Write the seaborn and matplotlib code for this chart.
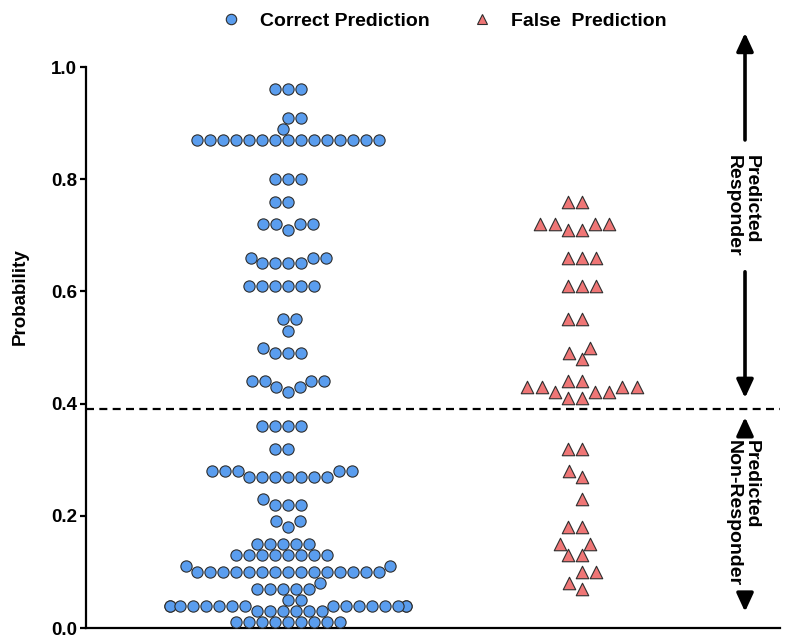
import matplotlib
matplotlib.use("Agg")
import matplotlib.pyplot as plt
from matplotlib.lines import Line2D
import seaborn as sns
import pandas as pd

# ---- data ----
categories = ["Correct Prediction", "False  Prediction"]

correct_values = [
    0.96, 0.96, 0.96,
    0.91, 0.91,
    0.89,
    0.87, 0.87, 0.87, 0.87, 0.87, 0.87, 0.87, 0.87, 0.87, 0.87, 0.87, 0.87, 0.87, 0.87, 0.87,
    0.80, 0.80, 0.80,
    0.76, 0.76,
    0.72, 0.72, 0.72, 0.72, 0.71,
    0.66, 0.66, 0.66, 0.65, 0.65, 0.65, 0.65,
    0.61, 0.61, 0.61, 0.61, 0.61, 0.61,
    0.55, 0.55, 0.53,
    0.50, 0.49, 0.49, 0.49,
    0.44, 0.44, 0.44, 0.44, 0.43, 0.43, 0.42,
    0.36, 0.36, 0.36, 0.36,
    0.32, 0.32,
    0.28, 0.28, 0.28, 0.28, 0.28, 0.27, 0.27, 0.27, 0.27, 0.27, 0.27, 0.27,
    0.23, 0.22, 0.22, 0.22,
    0.19, 0.19, 0.18,
    0.15, 0.15, 0.15, 0.15, 0.15,
    0.13, 0.13, 0.13, 0.13, 0.13, 0.13, 0.13, 0.13,
    0.11, 0.11,
    0.10, 0.10, 0.10, 0.10, 0.10, 0.10, 0.10, 0.10, 0.10, 0.10, 0.10, 0.10, 0.10, 0.10, 0.10,
    0.08, 0.07, 0.07, 0.07, 0.07, 0.07,
    0.05, 0.05,
    0.04, 0.04, 0.04, 0.04, 0.04, 0.04, 0.04, 0.04, 0.04, 0.04, 0.04, 0.04, 0.04, 0.04, 0.04, 0.04,
    0.03, 0.03, 0.03, 0.03, 0.03, 0.03,
    0.01, 0.01, 0.01, 0.01, 0.01, 0.01, 0.01, 0.01, 0.01,
]

false_values = [
    0.76, 0.76,
    0.72, 0.72, 0.72, 0.72, 0.71, 0.71,
    0.66, 0.66, 0.66,
    0.61, 0.61, 0.61,
    0.55, 0.55,
    0.50, 0.49, 0.48,
    0.44, 0.44, 0.43, 0.43, 0.43, 0.43, 0.42, 0.42, 0.42, 0.41, 0.41,
    0.32, 0.32,
    0.28, 0.27,
    0.23,
    0.18, 0.18,
    0.15, 0.15, 0.13, 0.13,
    0.10, 0.10, 0.08, 0.07,
]

threshold = 0.39
yticks = [0.0, 0.2, 0.4, 0.6, 0.8, 1.0]
ytick_labels = ["0.0", "0.2", "0.4", "0.6", "0.8", "1.0"]

blue = "#5A9DEE"
red = "#EF7676"
edge = "#2E2E2E"

df = pd.DataFrame({
    "group": [categories[0]] * len(correct_values) + [categories[1]] * len(false_values),
    "prob": correct_values + false_values,
})

sns.set_style("ticks")
plt.rcParams["font.family"] = ["Liberation Sans", "DejaVu Sans"]
plt.rcParams["font.weight"] = "bold"
plt.rcParams["text.color"] = "black"
plt.rcParams["axes.labelcolor"] = "black"
plt.rcParams["xtick.color"] = "black"
plt.rcParams["ytick.color"] = "black"
plt.rcParams["axes.edgecolor"] = "black"

fig = plt.figure(figsize=(8.0, 6.44), dpi=100)
ax = fig.add_axes([0.1075, 0.0248, 0.8675, 0.8711])

sns.swarmplot(data=df[df.group == categories[0]], x="group", y="prob", order=categories,
              color=blue, marker="o", size=8.1, edgecolor=edge, linewidth=0.8, ax=ax,
              warn_thresh=1.0)
sns.swarmplot(data=df[df.group == categories[1]], x="group", y="prob", order=categories,
              color=red, marker="^", size=9.0, edgecolor=edge, linewidth=0.8, ax=ax,
              warn_thresh=1.0)
for c in ax.collections:
    c.set_clip_on(False)

ax.set_xlim(-0.687, 1.673)
ax.set_ylim(0, 1.0)
ax.set_xticks([])
ax.set_xlabel("")
ax.set_yticks(yticks)
ax.set_yticklabels(ytick_labels, fontsize=13.5, fontweight="bold")
ax.tick_params(axis="y", length=4.5, width=1.6, direction="out", pad=2, colors="black")
for side in ["top", "right"]:
    ax.spines[side].set_visible(False)
for side in ["left", "bottom"]:
    ax.spines[side].set_linewidth(1.6)
    ax.spines[side].set_color("black")

ax.set_ylabel("Probability", fontsize=13.5, fontweight="bold", color="black")
ax.yaxis.set_label_coords(-0.082, 0.59)

ax.axhline(threshold, color="black", lw=1.6, dashes=(3.6, 2.4))

# right-side arrows and labels
ax_x = 1.554
arrow_kw = dict(arrowstyle="-|>,head_length=0.5,head_width=0.23", color="black", lw=2.6,
                mutation_scale=22, shrinkA=0, shrinkB=0)
for y0, y1 in [(0.870, 1.061), (0.635, 0.410), (0.342, 0.376), (0.058, 0.029)]:
    ax.annotate("", xy=(ax_x, y1), xytext=(ax_x, y0), xycoords="data",
                arrowprops=arrow_kw, annotation_clip=False)

ax.text(ax_x - 0.01, 0.752, "Predicted\nResponder", rotation=-90, ha="center", va="center",
        fontsize=14, fontweight="bold", multialignment="left", linespacing=1.05, color="black")
ax.text(ax_x - 0.01, 0.205, "Predicted\nNon-Responder", rotation=-90, ha="center", va="center",
        fontsize=14, fontweight="bold", multialignment="left", linespacing=1.05, color="black")

handles = [
    Line2D([], [], marker="o", ls="", markersize=7.5, markerfacecolor=blue,
           markeredgecolor=edge, markeredgewidth=0.8),
    Line2D([], [], marker="^", ls="", markersize=7.5, markerfacecolor=red,
           markeredgecolor=edge, markeredgewidth=0.8),
]
fig.legend(handles, categories, loc="center", bbox_to_anchor=(0.555, 0.967), ncol=2,
           frameon=False, prop={"size": 14, "weight": "bold"}, handletextpad=1.0,
           columnspacing=2.2, handlelength=1.0, labelcolor="black")

fig.savefig("out.png", dpi=100)
